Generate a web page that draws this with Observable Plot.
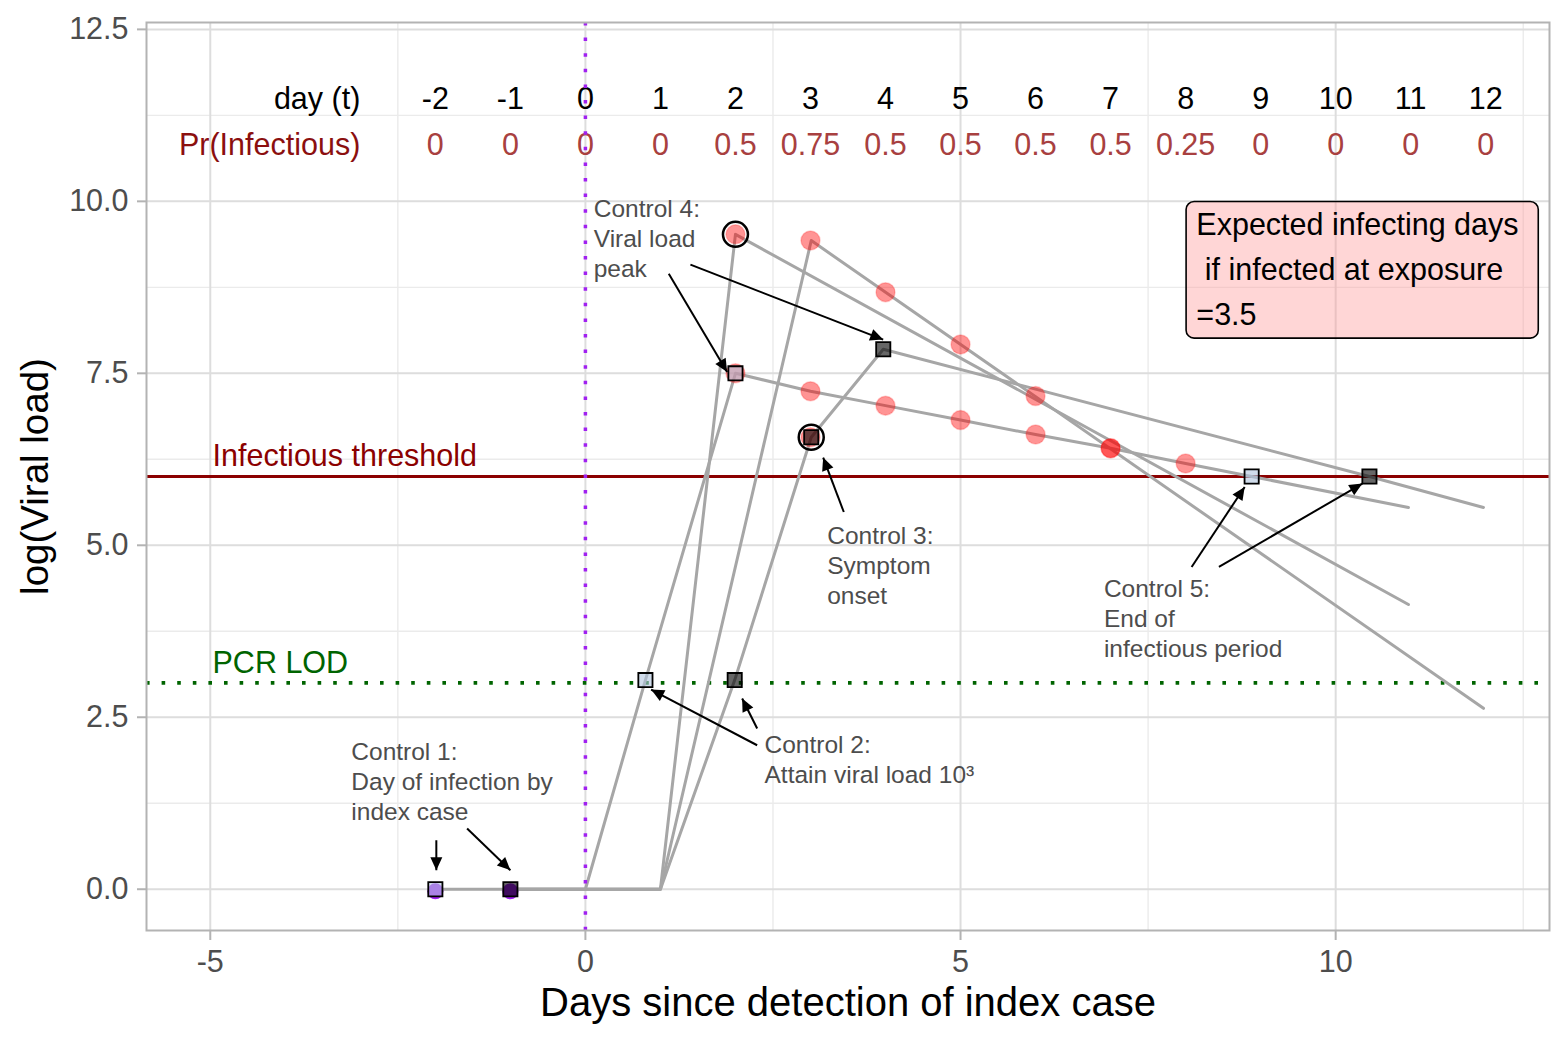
<!DOCTYPE html>
<html>
<head>
<meta charset="utf-8">
<script src="https://cdn.jsdelivr.net/npm/d3@7"></script>
<script src="https://cdn.jsdelivr.net/npm/@observablehq/plot@0.6"></script>
<style>
  html, body { margin: 0; padding: 0; background: #ffffff; }
  #chart { width: 1568px; height: 1045px; }
</style>
</head>
<body>
<div id="chart"></div>
<script>
// ---------------- data ----------------
const days = [-2, -1, 0, 1, 2, 3, 4, 5, 6, 7, 8, 9, 10, 11, 12];
const prInfectious = ["0", "0", "0", "0", "0.5", "0.75", "0.5", "0.5", "0.5", "0.5", "0.25", "0", "0", "0", "0"];

// viral load trajectories (log viral load by day)
const traj1X = [-2, 0, 0.8, 2, 3, 4, 5, 6, 7, 8, 8.88, 10.97];
const traj1Y = [0, 0, 3.04, 7.5, 7.24, 7.03, 6.82, 6.61, 6.41, 6.19, 6.0, 5.55];
const traj2X = [-1, 1, 2, 10.97];
const traj2Y = [0, 0, 9.52, 4.14];
const traj3X = [-1, 1, 3.01, 11.97];
const traj3Y = [0, 0, 9.43, 2.63];
const traj4X = [-1, 1, 1.99, 3.01, 3.97, 10.45, 11.97];
const traj4Y = [0, 0, 3.04, 6.57, 7.85, 6.0, 5.55];

// daily samples above threshold
const infX = [2, 2, 3, 3, 3, 4, 4, 5, 5, 6, 6, 7, 7, 8];
const infY = [9.52, 7.5, 9.43, 7.24, 6.57, 8.68, 7.03, 7.92, 6.82, 7.17, 6.61, 6.41, 6.41, 6.19];

// day of infection by index case
const infectionX = [-2, -1];
const infectionY = [-0.03, -0.03];

// control points
const ctrlX = [-2, -1, 0.8, 1.99, 2, 3.01, 3.97, 8.88, 10.45];
const ctrlY = [0, 0, 3.04, 3.04, 7.5, 6.57, 7.85, 6.0, 6.0];
const ctrlGroup = ["a", "b", "a", "b", "a", "b", "b", "a", "b"];

// highlighted (circled) points
const ringX = [2, 3.01];
const ringY = [9.52, 6.57];

// reference levels
const infectiousThreshold = 6;
const pcrLOD = 3;
const detectionDay = 0;

// annotations
const annText = [
  "Control 1:\nDay of infection by\nindex case",
  "Control 2:\nAttain viral load 10\u00b3",
  "Control 3:\nSymptom\nonset",
  "Control 4:\nViral load\npeak",
  "Control 5:\nEnd of\ninfectious period"
];
const annX = [-3.12, 2.387, 3.223, 0.111, 6.911];
const annY = [1.875, 1.981, 5.015, 9.772, 4.244];

const arrowX1 = [-1.987, -1.577, 2.289, 2.289, 3.444, 1.111, 1.4, 8.08, 8.444];
const arrowY1 = [0.712, 0.882, 2.093, 2.337, 5.484, 8.949, 9.08, 4.685, 4.685];
const arrowX2 = [-1.987, -1.0, 0.876, 2.089, 3.169, 1.889, 3.969, 8.787, 10.356];
const arrowY2 = [0.276, 0.276, 2.903, 2.773, 6.275, 7.519, 7.99, 5.848, 5.897];

const boxLines = ["Expected infecting days", "\u00a0if infected at exposure", "=3.5"];
const boxX = [8.013, 12.707];
const boxY = [8.004, 9.99];
const boxTextX = 8.143;
const boxTextY = 9.506;

const xTicks = [-5, 0, 5, 10];
const xMinor = [-2.5, 2.5, 7.5, 12.5];
const yTicks = [0, 2.5, 5, 7.5, 10, 12.5];
const yMinor = [1.25, 3.75, 6.25, 8.75, 11.25];

// ---------------- layout ----------------
const W = 1568, H = 1045;
const mL = 146, mR = 19, mT = 22, mB = 115;
const xDomain = [-5.85, 12.85];
const yDomain = [-0.6, 12.6];
const kx = (W - mL - mR) / (xDomain[1] - xDomain[0]);
const ky = (H - mT - mB) / (yDomain[1] - yDomain[0]);
const font = "Liberation Sans, Arial, Helvetica, sans-serif";

// ---------------- derived tables ----------------
const trajRows = [["T1", traj1X, traj1Y], ["T2", traj2X, traj2Y], ["T3", traj3X, traj3Y], ["T4", traj4X, traj4Y]]
  .flatMap(([id, xs, ys]) => xs.map((x, i) => ({id, x, y: ys[i]})));
const infRows = infX.map((x, i) => ({x, y: infY[i]}));
const ctrlRows = ctrlX.map((x, i) => ({x, y: ctrlY[i], g: ctrlGroup[i]}));
const ringRows = ringX.map((x, i) => ({x, y: ringY[i]}));
const infectionRows = infectionX.map((x, i) => ({x, y: infectionY[i]}));

const annLineStep = 30 / ky;
const annRows = annText.flatMap((t, k) =>
  t.split("\n").map((line, j) => ({text: line, x: annX[k], y: annY[k] - j * annLineStep})));
const boxLineStep = 45 / ky;
const boxRows = boxLines.map((line, j) => ({text: line, x: boxTextX, y: boxTextY - j * boxLineStep}));

const arrows = arrowX1.map((x1, i) => {
  const y1 = arrowY1[i], x2 = arrowX2[i], y2 = arrowY2[i];
  const angle = Math.atan2(-(y2 - y1) * ky, (x2 - x1) * kx) * 180 / Math.PI;
  return {x1, y1, x2, y2, angle};
});

const arrowHead = {
  draw(ctx) {
    const L = 13, w = 6;
    ctx.moveTo(0, 0);
    ctx.lineTo(-L, -w);
    ctx.lineTo(-L, w);
    ctx.closePath();
  }
};

const dayRows = days.map((d, i) => ({d, label: String(d), pr: prInfectious[i]}));

// ---------------- chart ----------------
const chart = Plot.plot({
  width: W,
  height: H,
  marginLeft: mL,
  marginRight: mR,
  marginTop: mT,
  marginBottom: mB,
  style: {fontFamily: font, background: "#ffffff", overflow: "visible"},
  x: {domain: xDomain},
  y: {domain: yDomain},
  marks: [
    // grid
    Plot.gridX(xMinor, {stroke: "#ebebeb", strokeOpacity: 1, strokeWidth: 1.4}),
    Plot.gridY(yMinor, {stroke: "#ebebeb", strokeOpacity: 1, strokeWidth: 1.4}),
    Plot.gridX(xTicks, {stroke: "#dddddd", strokeOpacity: 1, strokeWidth: 2}),
    Plot.gridY(yTicks, {stroke: "#dddddd", strokeOpacity: 1, strokeWidth: 2}),

    // axes
    Plot.axisX({ticks: xTicks, tickFormat: d => String(d), tickSize: 10, tickPadding: 10,
      fontSize: 30.5, stroke: "#b3b3b3", strokeWidth: 2, fill: "#4d4d4d", label: null}),
    Plot.axisY({ticks: yTicks, tickFormat: d3.format(".1f"), tickSize: 9, tickPadding: 9,
      fontSize: 30.5, stroke: "#b3b3b3", strokeWidth: 2, fill: "#4d4d4d", label: null}),

    // reference lines
    Plot.ruleY([infectiousThreshold], {stroke: "#8B0000", strokeWidth: 3.2}),
    Plot.ruleY([pcrLOD], {stroke: "#006400", strokeWidth: 3.6, strokeDasharray: "3.6 12"}),

    // trajectories
    Plot.line(trajRows, {x: "x", y: "y", z: "id", stroke: "#a6a6a6", strokeWidth: 3}),

    // samples above threshold
    Plot.dot(infRows, {x: "x", y: "y", r: 9.5, fill: "#ff0000", fillOpacity: 0.42,
      stroke: "#ff0000", strokeOpacity: 0.2, strokeWidth: 1.5}),

    // infection days
    Plot.dot(infectionRows, {x: "x", y: "y", r: 8, fill: "#A020F0"}),

    // control points
    Plot.dot(ctrlRows, {x: "x", y: "y", symbol: "square", r: 8,
      fill: d => d.g === "a" ? "#b0c4de" : "#000000", fillOpacity: 0.6,
      stroke: "#000000", strokeWidth: 1.8}),

    // rings
    Plot.dot(ringRows, {x: "x", y: "y", r: 12.5, stroke: "#000000", strokeWidth: 2.5, fill: "none"}),

    // header rows
    Plot.text(dayRows, {x: "d", y: 11.337, text: "label", fontSize: 30.5, fill: "#000000", lineAnchor: "bottom"}),
    Plot.text(dayRows, {x: "d", y: 10.669, text: "pr", fontSize: 30.5, fill: "#a84040", lineAnchor: "bottom"}),
    Plot.text(["day (t)"], {x: -3.0, y: 11.337, text: d => d, fontSize: 30.5, fill: "#000000",
      textAnchor: "end", lineAnchor: "bottom"}),
    Plot.text(["Pr(Infectious)"], {x: -3.0, y: 10.669, text: d => d, fontSize: 30.5, fill: "#8B0F0F",
      textAnchor: "end", lineAnchor: "bottom"}),

    // reference labels
    Plot.text(["Infectious threshold"], {x: -4.97, y: 6.148, text: d => d, fontSize: 30.5, fill: "#8B0000",
      textAnchor: "start", lineAnchor: "bottom"}),
    Plot.text(["PCR LOD"], {x: -4.97, y: 3.14, text: d => d, fontSize: 30.5, fill: "#006400",
      textAnchor: "start", lineAnchor: "bottom"}),

    // detection day
    Plot.ruleX([detectionDay], {stroke: "#A020F0", strokeWidth: 3.5, strokeDasharray: "3.5 12.1"}),

    // annotations
    Plot.text(annRows, {x: "x", y: "y", text: "text", fontSize: 24.5, fill: "#4d4d4d",
      textAnchor: "start", lineAnchor: "bottom"}),
    Plot.link(arrows, {x1: "x1", y1: "y1", x2: "x2", y2: "y2", stroke: "#000000", strokeWidth: 2}),
    Plot.dot(arrows, {x: "x2", y: "y2", symbol: arrowHead, rotate: "angle", fill: "#000000", stroke: "none"}),

    // expected infecting days box
    Plot.rect([0], {x1: boxX[0], x2: boxX[1], y1: boxY[0], y2: boxY[1], rx: 8,
      fill: "#ff9999", fillOpacity: 0.4, stroke: "#000000", strokeWidth: 1.6}),
    Plot.text(boxRows, {x: "x", y: "y", text: "text", fontSize: 30.5, fill: "#000000",
      textAnchor: "start", lineAnchor: "bottom"}),

    // axis titles
    Plot.text(["Days since detection of index case"], {x: 3.5, y: (0 - (1016 - 889) / ky), text: d => d,
      fontSize: 40, fill: "#000000", lineAnchor: "bottom"}),
    Plot.text(["log(Viral load)"], {x: (48 - 585) / kx, y: 6.0, text: d => d, rotate: -90,
      fontSize: 38.5, fill: "#000000", lineAnchor: "bottom"}),

    // panel border
    Plot.frame({stroke: "#b3b3b3", strokeWidth: 2})
  ]
});

document.getElementById("chart").append(chart);
</script>
</body>
</html>
